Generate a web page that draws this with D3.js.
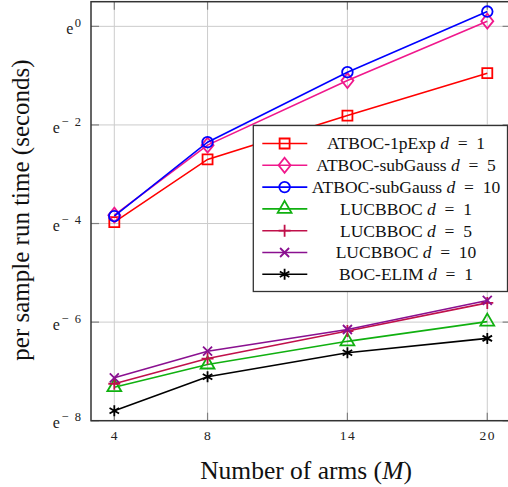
<!DOCTYPE html>
<html><head><meta charset="utf-8">
<script src="https://cdn.jsdelivr.net/npm/d3@7/dist/d3.min.js"></script>
<style>body{margin:0;background:#fff}svg{display:block}</style>
</head><body>
<svg id="chart" width="508" height="487"></svg>
<script>
// ---- data (per sample run time in seconds) ----
const arms = [4, 8, 14, 20];
const atbocExpD1 = [0.01887, 0.06721, 0.16365, 0.38674];
const atbocGaussD5 = [0.02171, 0.08982, 0.33287, 1.1107];
const atbocGaussD10 = [0.02128, 0.09537, 0.39455, 1.3499];
const lucbbocD1 = [0.00066216, 0.0010489, 0.0016783, 0.0025037];
const lucbbocD5 = [0.00071017, 0.0011827, 0.0020704, 0.0036611];
const lucbbocD10 = [0.00080072, 0.0013740, 0.0021335, 0.0038488];
const bocElimD1 = [0.00040974, 0.00081690, 0.0013334, 0.0017820];
const seriesLabels = ["ATBOC-1pExp", "ATBOC-subGauss", "ATBOC-subGauss", "LUCBBOC", "LUCBBOC", "LUCBBOC", "BOC-ELIM"];
const seriesD = ["1", "5", "10", "1", "5", "10", "1"];
const xTickValues = [4, 8, 14, 20];
const yTickExponents = [-8, -6, -4, -2, 0];

// ---- styles ----
const colors = ["#ff0000", "#f0188c", "#0000ff", "#10b010", "#c0104a", "#8a1090", "#000000"];
const markers = ["square", "diamond", "circle", "triangle", "plus", "cross", "asterisk"];
const seriesValues = [atbocExpD1, atbocGaussD5, atbocGaussD10, lucbbocD1, lucbbocD5, lucbbocD10, bocElimD1];

const svg = d3.select("#chart");
const L = 91, R = 510.6, T = 1.7, B = 420.7;
const x = d3.scaleLinear().domain([3, 21]).range([L, R]);
const y = d3.scaleLog().base(Math.E).domain([Math.exp(-8), Math.exp(0.5)]).range([B, T]);
const serif = "'Liberation Serif','Times New Roman',serif";

// grid
const grid = svg.append("g");
grid.selectAll("line.v").data(xTickValues).join("line")
  .attr("x1", d => x(d)).attr("x2", d => x(d)).attr("y1", T).attr("y2", B)
  .attr("stroke", "#cccccc").attr("stroke-width", 1);
grid.selectAll("line.h").data(yTickExponents).join("line")
  .attr("x1", L).attr("x2", R).attr("y1", d => y(Math.exp(d))).attr("y2", d => y(Math.exp(d)))
  .attr("stroke", "#cccccc").attr("stroke-width", 1);

// ticks (inward, all sides)
const tk = 8;
const ticks = svg.append("g").attr("stroke", "#808080").attr("stroke-width", 1.2);
xTickValues.forEach(v => {
  ticks.append("line").attr("x1", x(v)).attr("x2", x(v)).attr("y1", B).attr("y2", B - tk);
  ticks.append("line").attr("x1", x(v)).attr("x2", x(v)).attr("y1", T).attr("y2", T + tk);
});
yTickExponents.forEach(e => {
  const yy = y(Math.exp(e));
  ticks.append("line").attr("x1", L).attr("x2", L + tk).attr("y1", yy).attr("y2", yy);
  ticks.append("line").attr("x1", R).attr("x2", R - tk).attr("y1", yy).attr("y2", yy);
});

// axes labels via d3 axes
const xAxis = svg.append("g").attr("transform", `translate(0,${B})`)
  .call(d3.axisBottom(x).tickValues(xTickValues).tickSize(0).tickPadding(10).tickFormat(d3.format("d")));
xAxis.attr("font-family", null).attr("font-size", null);
xAxis.select(".domain").remove();
xAxis.selectAll("text").style("font-family", serif).style("font-size", "13.5px").attr("fill", "#222")
  .style("letter-spacing", "1.5px");

const yAxis = svg.append("g").attr("transform", `translate(${L},0)`)
  .call(d3.axisLeft(y).tickValues(yTickExponents.map(e => Math.exp(e))).tickSize(0).tickPadding(10).tickFormat(""));
yAxis.attr("font-family", null).attr("font-size", null);
yAxis.select(".domain").remove();
yAxis.selectAll(".tick text").each(function(d) {
  const t = d3.select(this).text(null).style("font-family", serif).attr("fill", "#222").attr("dy", "0.45em");
  const ex = Math.round(Math.log(d));
  t.append("tspan").style("font-size", "16px").text("e");
  t.append("tspan").style("font-size", "12.5px").attr("dy", -7).attr("dx", 1.5)
    .text(ex < 0 ? "\u2212\u2002" + (-ex) : String(ex));
});

// frame
svg.append("rect").attr("x", L).attr("y", T).attr("width", R - L).attr("height", B - T)
  .attr("fill", "none").attr("stroke", "#333").attr("stroke-width", 1.5);

// marker shapes
function markerPath(type) {
  switch (type) {
    case "square": return "M-5,-5H5V5H-5Z";
    case "diamond": return "M0,-7.5L6,0L0,7.5L-6,0Z";
    case "triangle": return "M0,-8L6.93,4L-6.93,4Z";
    case "plus": return "M-6,0H6M0,-6V6";
    case "cross": return "M-4.5,-4.5L4.5,4.5M-4.5,4.5L4.5,-4.5";
    case "asterisk": {
      let p = ""; const r = 5.5;
      [90, 30, 150].forEach(a => { const c = Math.cos(a * Math.PI / 180) * r, s = Math.sin(a * Math.PI / 180) * r;
        p += `M${-c},${-s}L${c},${s}`; });
      return p;
    }
  }
  return "";
}
function drawMarker(g, type, color, cx, cy) {
  if (type === "circle") {
    g.append("circle").attr("cx", cx).attr("cy", cy).attr("r", 5.3)
      .attr("fill", "none").attr("stroke", color).attr("stroke-width", 1.8);
  } else {
    g.append("path").attr("d", markerPath(type)).attr("transform", `translate(${cx},${cy})`)
      .attr("fill", "none").attr("stroke", color).attr("stroke-width", 1.8);
  }
}

// series
const line = d3.line().x((d, i) => x(arms[i])).y(d => y(d));
seriesValues.forEach((vals, si) => {
  const g = svg.append("g");
  g.append("path").attr("d", line(vals)).attr("fill", "none")
    .attr("stroke", colors[si]).attr("stroke-width", 1.6);
  vals.forEach((v, i) => drawMarker(g, markers[si], colors[si], x(arms[i]), y(v)));
});

// legend
const lg = svg.append("g");
lg.append("rect").attr("x", 253.3).attr("y", 125.5).attr("width", 254.2).attr("height", 166)
  .attr("fill", "#fff").attr("stroke", "#333").attr("stroke-width", 1.3);
seriesLabels.forEach((lab, i) => {
  const cy = 143.5 + i * 21.8;
  lg.append("line").attr("x1", 262.3).attr("x2", 307.3).attr("y1", cy).attr("y2", cy)
    .attr("stroke", colors[i]).attr("stroke-width", 1.6);
  drawMarker(lg, markers[i], colors[i], 284.6, cy);
  const t = lg.append("text").attr("x", 406).attr("y", cy + 5.8).attr("text-anchor", "middle")
    .attr("font-family", serif).attr("font-size", 17.5).attr("fill", "#111");
  t.append("tspan").text(lab + " ");
  t.append("tspan").attr("font-style", "italic").text("d");
  t.append("tspan").text("\u2002=\u2002" + seriesD[i]);
});

// axis titles
const xt = svg.append("text").attr("x", 306).attr("y", 479).attr("text-anchor", "middle")
  .attr("font-family", serif).attr("font-size", 25.5).attr("fill", "#111");
xt.append("tspan").text("Number of arms (");
xt.append("tspan").attr("font-style", "italic").text("M");
xt.append("tspan").text(")");

svg.append("text").attr("transform", "translate(29,210) rotate(-90)").attr("text-anchor", "middle")
  .attr("font-family", serif).attr("font-size", 25).attr("fill", "#111")
  .text("per sample run time (seconds)");
</script>
</body></html>
